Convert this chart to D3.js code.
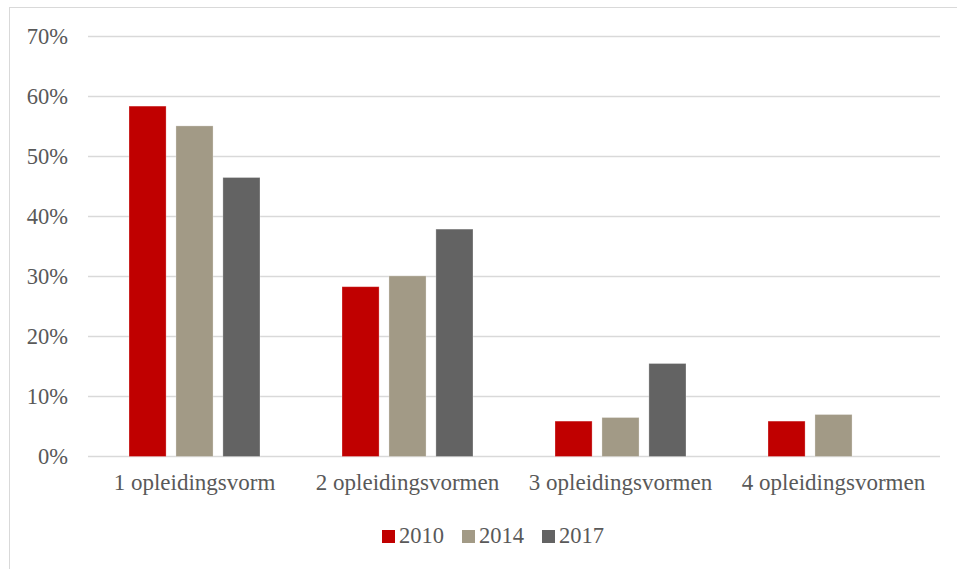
<!DOCTYPE html>
<html>
<head>
<meta charset="utf-8">
<script src="https://cdn.jsdelivr.net/npm/d3@7"></script>
<style>
  html, body { margin: 0; padding: 0; background: #fff; }
  svg { display: block; }
  text { font-family: "Liberation Serif", "DejaVu Serif", serif; fill: #595959; }
</style>
</head>
<body>
<svg id="chart" width="957" height="569"></svg>
<script>
const categories = ["1 opleidingsvorm", "2 opleidingsvormen", "3 opleidingsvormen", "4 opleidingsvormen"];
const seriesNames = ["2010", "2014", "2017"];
const values2010 = [0.584, 0.283, 0.059, 0.059];
const values2014 = [0.551, 0.301, 0.065, 0.070];
const values2017 = [0.465, 0.379, 0.155, 0];
const yTicks = [0, 0.1, 0.2, 0.3, 0.4, 0.5, 0.6, 0.7];
const colors = ["#C00000", "#A29A86", "#636363"];

const seriesValues = [values2010, values2014, values2017];
const svg = d3.select("#chart");

// outer chart border
svg.append("rect")
  .attr("x", 9.5).attr("y", 7.5)
  .attr("width", 1000).attr("height", 1000)
  .attr("fill", "none").attr("stroke", "#D9D9D9").attr("stroke-width", 1);

const plotLeft = 88, plotRight = 940, plotTop = 36.5, plotBottom = 456.5;

const x = d3.scaleBand().domain(categories).range([plotLeft, plotRight])
  .paddingInner(0.385).paddingOuter(0.1925);
const xs = d3.scaleBand().domain(seriesNames).range([0, x.bandwidth()])
  .paddingInner(0.21).paddingOuter(0);
const y = d3.scaleLinear().domain([0, 0.7]).range([plotBottom, plotTop]);

// gridlines
svg.append("g").selectAll("line").data(yTicks).join("line")
  .attr("x1", plotLeft).attr("x2", plotRight)
  .attr("y1", d => y(d)).attr("y2", d => y(d))
  .attr("stroke", "#D9D9D9").attr("stroke-width", 1.5);

// y axis labels
const yAxis = d3.axisLeft(y).tickValues(yTicks).tickFormat(d3.format(".0%")).tickSize(0).tickPadding(0);
const gy = svg.append("g").attr("transform", `translate(68,0)`).call(yAxis);
gy.select(".domain").remove();
gy.selectAll("text").attr("font-size", 22.5).attr("fill", "#595959")
  .attr("font-family", "Liberation Serif, serif").attr("dy", "0.3em");

// bars
const groups = svg.append("g").selectAll("g").data(categories).join("g")
  .attr("transform", d => `translate(${x(d)},0)`);
groups.selectAll("rect")
  .data((c, i) => seriesNames.map((s, j) => ({ s, j, v: seriesValues[j][i] })).filter(d => d.v > 0))
  .join("rect")
  .attr("x", d => xs(d.s))
  .attr("width", xs.bandwidth())
  .attr("y", d => y(d.v))
  .attr("height", d => y(0) - y(d.v))
  .attr("fill", d => colors[d.j])
  .attr("stroke", "rgba(255,255,255,0.35)").attr("stroke-width", 0.8);

// x axis labels
const xAxis = d3.axisBottom(x).tickSize(0).tickPadding(0);
const gx = svg.append("g").attr("transform", `translate(0,490)`).call(xAxis);
gx.select(".domain").remove();
gx.selectAll("text").attr("font-size", 23).attr("fill", "#595959")
  .attr("font-family", "Liberation Serif, serif").attr("dy", 0).attr("y", 0);

// legend
const legendX = [382, 462, 542];
const legend = svg.append("g").selectAll("g").data(seriesNames).join("g")
  .attr("transform", (d, i) => `translate(${legendX[i]},0)`);
legend.append("rect").attr("x", 0).attr("y", 530).attr("width", 13).attr("height", 13)
  .attr("fill", (d, i) => colors[i]);
legend.append("text").attr("x", 17).attr("y", 543).attr("font-size", 22.5).text(d => d);
</script>
</body>
</html>
